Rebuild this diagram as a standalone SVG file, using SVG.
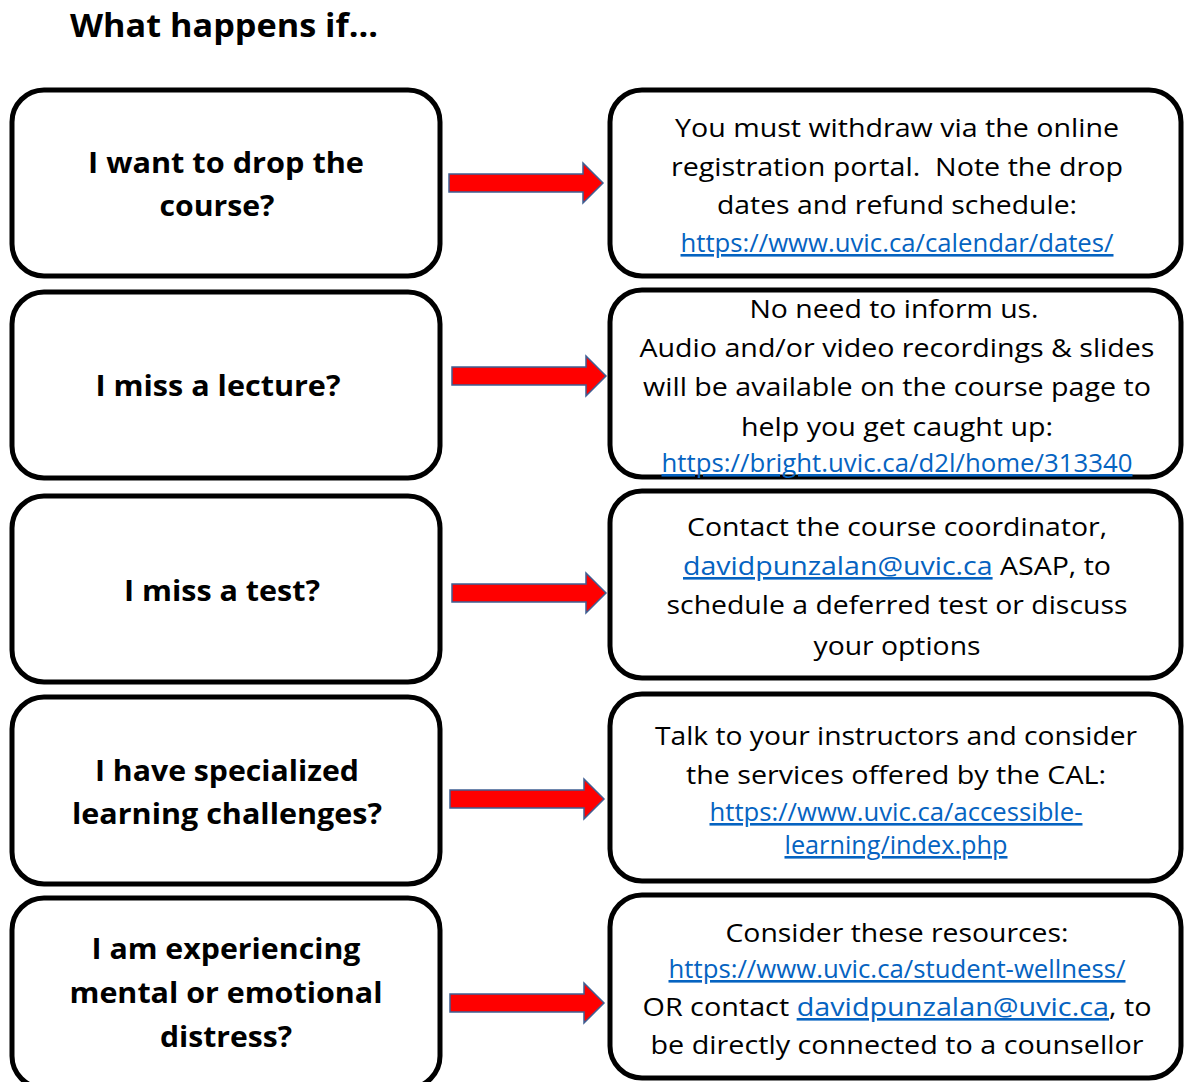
<svg xmlns="http://www.w3.org/2000/svg" width="1184" height="1082" viewBox="0 0 1184 1082">
<style>
.box{fill:#fff;stroke:#000;stroke-width:5}
.q{font-family:"Open Sans","Noto Sans",sans-serif;font-weight:bold;font-size:29px;fill:#000;text-anchor:middle}
.a{font-family:"Open Sans","Noto Sans",sans-serif;font-size:26px;fill:#000;text-anchor:middle}
.lk{fill:#0563c1;text-decoration:underline}
.arr{fill:#ff0000;stroke:#3f5f93;stroke-width:1.5}
.title{font-family:"Open Sans","Noto Sans",sans-serif;font-weight:bold;font-size:32px;fill:#000}
</style>
<defs>
<path id="arrow" d="M0,-9 H134 V-20 L154,0 L134,20 V9 H0 Z"/>
</defs>
<rect width="1184" height="1082" fill="#fff"/>
<text class="title" x="70" y="37" textLength="308" lengthAdjust="spacingAndGlyphs">What happens if…</text>

<g id="connectors">
<use href="#arrow" class="arr" transform="translate(449,183)"/>
<use href="#arrow" class="arr" transform="translate(452,376)"/>
<use href="#arrow" class="arr" transform="translate(452,593)"/>
<use href="#arrow" class="arr" transform="translate(450,799)"/>
<use href="#arrow" class="arr" transform="translate(450,1003)"/>
</g>

<g id="q1">
<rect class="box" x="12" y="90" width="428" height="186" rx="32"/>
<text class="q" x="226" y="173" textLength="276" lengthAdjust="spacingAndGlyphs">I want to drop the</text>
<text class="q" x="217" y="216" textLength="115" lengthAdjust="spacingAndGlyphs">course?</text>
</g>
<g id="q2">
<rect class="box" x="12" y="292" width="428" height="186" rx="32"/>
<text class="q" x="218" y="396" textLength="245" lengthAdjust="spacingAndGlyphs">I miss a lecture?</text>
</g>
<g id="q3">
<rect class="box" x="12" y="496" width="428" height="186" rx="32"/>
<text class="q" x="222" y="601" textLength="196" lengthAdjust="spacingAndGlyphs">I miss a test?</text>
</g>
<g id="q4">
<rect class="box" x="12" y="697" width="428" height="187" rx="32"/>
<text class="q" x="227" y="781" textLength="264" lengthAdjust="spacingAndGlyphs">I have specialized</text>
<text class="q" x="227" y="824" textLength="310" lengthAdjust="spacingAndGlyphs">learning challenges?</text>
</g>
<g id="q5">
<rect class="box" x="12" y="898" width="428" height="190" rx="32"/>
<text class="q" x="226" y="959" textLength="269" lengthAdjust="spacingAndGlyphs">I am experiencing</text>
<text class="q" x="226" y="1003" textLength="313" lengthAdjust="spacingAndGlyphs">mental or emotional</text>
<text class="q" x="226" y="1047" textLength="132" lengthAdjust="spacingAndGlyphs">distress?</text>
</g>

<g id="a1">
<rect class="box" x="610" y="90" width="571" height="186" rx="32"/>
<text class="a" x="897" y="137" textLength="444" lengthAdjust="spacingAndGlyphs">You must withdraw via the online</text>
<text class="a" x="897" y="176" textLength="452" lengthAdjust="spacingAndGlyphs" xml:space="preserve">registration portal.  Note the drop</text>
<text class="a" x="897" y="214" textLength="360" lengthAdjust="spacingAndGlyphs">dates and refund schedule:</text>
<text class="a lk" x="897" y="252" textLength="433" lengthAdjust="spacingAndGlyphs">https://www.uvic.ca/calendar/dates/</text>
</g>
<g id="a2">
<rect class="box" x="610" y="290" width="571" height="187" rx="32"/>
<text class="a" x="894" y="318" textLength="289" lengthAdjust="spacingAndGlyphs">No need to inform us.</text>
<text class="a" x="897" y="357" textLength="515" lengthAdjust="spacingAndGlyphs">Audio and/or video recordings &amp; slides</text>
<text class="a" x="897" y="396" textLength="508" lengthAdjust="spacingAndGlyphs">will be available on the course page to</text>
<text class="a" x="897" y="436" textLength="312" lengthAdjust="spacingAndGlyphs">help you get caught up:</text>
<text class="a lk" x="897" y="472" textLength="471" lengthAdjust="spacingAndGlyphs">https://bright.uvic.ca/d2l/home/313340</text>
</g>
<g id="a3">
<rect class="box" x="610" y="491" width="571" height="187" rx="32"/>
<text class="a" x="897" y="536" textLength="420" lengthAdjust="spacingAndGlyphs">Contact the course coordinator,</text>
<text class="a" x="897" y="575" textLength="428" lengthAdjust="spacingAndGlyphs"><tspan class="lk">davidpunzalan@uvic.ca</tspan> ASAP, to</text>
<text class="a" x="897" y="614" textLength="461" lengthAdjust="spacingAndGlyphs">schedule a deferred test or discuss</text>
<text class="a" x="897" y="655" textLength="167" lengthAdjust="spacingAndGlyphs">your options</text>
</g>
<g id="a4">
<rect class="box" x="610" y="694" width="571" height="187" rx="32"/>
<text class="a" x="896" y="745" textLength="482" lengthAdjust="spacingAndGlyphs">Talk to your instructors and consider</text>
<text class="a" x="896" y="784" textLength="420" lengthAdjust="spacingAndGlyphs">the services offered by the CAL:</text>
<text class="a lk" x="896" y="821" textLength="373" lengthAdjust="spacingAndGlyphs">https://www.uvic.ca/accessible-</text>
<text class="a lk" x="896" y="854" textLength="223" lengthAdjust="spacingAndGlyphs">learning/index.php</text>
</g>
<g id="a5">
<rect class="box" x="610" y="895" width="571" height="183" rx="32"/>
<text class="a" x="897" y="942" textLength="343" lengthAdjust="spacingAndGlyphs">Consider these resources:</text>
<text class="a lk" x="897" y="978" textLength="457" lengthAdjust="spacingAndGlyphs">https://www.uvic.ca/student-wellness/</text>
<text class="a" x="897" y="1016" textLength="509" lengthAdjust="spacingAndGlyphs">OR contact <tspan class="lk">davidpunzalan@uvic.ca</tspan>, to</text>
<text class="a" x="897" y="1054" textLength="493" lengthAdjust="spacingAndGlyphs">be directly connected to a counsellor</text>
</g>
</svg>
